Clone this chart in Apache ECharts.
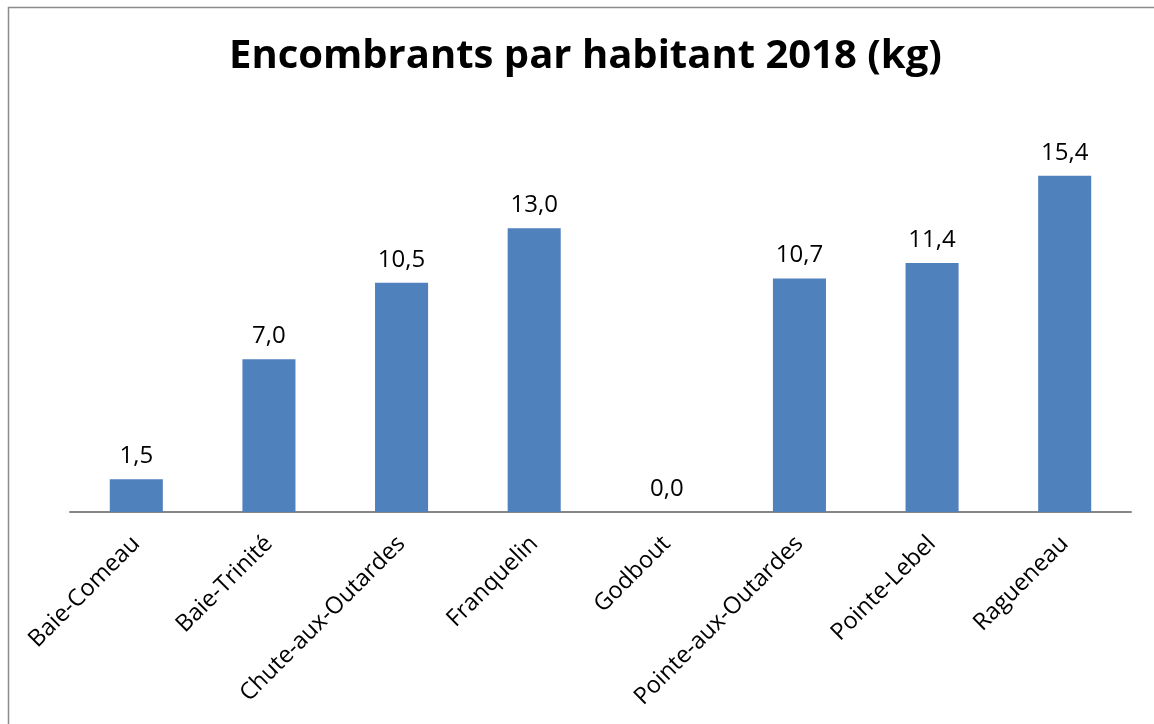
<!DOCTYPE html>
<html>
<head>
<meta charset="utf-8">
<script src="https://cdn.jsdelivr.net/npm/echarts@6/dist/echarts.min.js"></script>
<style>
html,body{margin:0;padding:0;background:#fff;}
#chart{width:1154px;height:724px;}
</style>
</head>
<body>
<div id="chart"></div>
<script>
const titleText = 'Encombrants par habitant 2018 (kg)';
const categories = ['Baie-Comeau', 'Baie-Trinité', 'Chute-aux-Outardes', 'Franquelin', 'Godbout', 'Pointe-aux-Outardes', 'Pointe-Lebel', 'Ragueneau'];
const values = [1.5, 7.0, 10.5, 13.0, 0.0, 10.7, 11.4, 15.4];
const yMin = 0;
const yMax = 18;

const chart = echarts.init(document.getElementById('chart'));
const font = '"Open Sans", sans-serif';
chart.setOption({
  backgroundColor: '#ffffff',
  animation: false,
  graphic: [{
    type: 'rect',
    silent: true,
    shape: { x: 8.5, y: 7.5, width: 1300, height: 900 },
    style: { fill: 'none', stroke: '#8c8c8c', lineWidth: 1.5 }
  }],
  title: {
    text: titleText,
    left: 224,
    top: 32,
    textStyle: { fontFamily: font, fontWeight: 'bold', fontSize: 40, color: '#000' }
  },
  grid: { left: 70, right: 23, top: 119, bottom: 212, containLabel: false },
  xAxis: {
    type: 'category',
    data: categories,
    axisLine: { show: true, lineStyle: { color: '#868686', width: 2 } },
    axisTick: { show: false },
    axisLabel: {
      interval: 0,
      rotate: 45,
      margin: 28,
      fontFamily: font,
      fontSize: 23.5,
      color: '#000'
    },
    splitLine: { show: false }
  },
  yAxis: {
    type: 'value',
    min: yMin,
    max: yMax,
    show: false,
    splitLine: { show: false }
  },
  series: [{
    type: 'bar',
    data: values,
    barCategoryGap: '60%',
    itemStyle: { color: '#4F81BD' },
    label: {
      show: true,
      position: 'top',
      distance: 11,
      fontFamily: font,
      fontSize: 24,
      color: '#000',
      formatter: p => p.value.toFixed(1).replace('.', ',')
    }
  }]
});
</script>
</body>
</html>
